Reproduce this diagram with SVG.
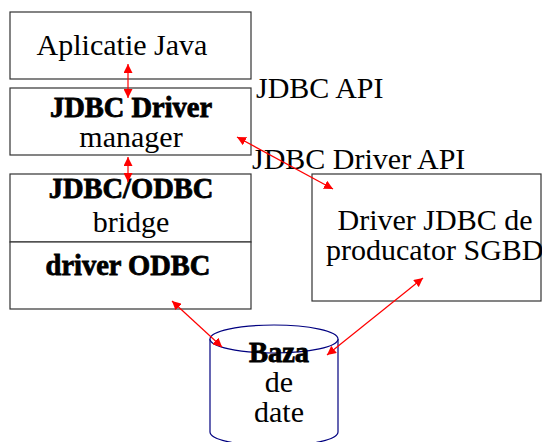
<svg xmlns="http://www.w3.org/2000/svg" width="542" height="442" viewBox="0 0 542 442">
  <defs>
    <marker id="ah" viewBox="0 0 10 10" refX="10" refY="5" markerWidth="9" markerHeight="9" markerUnits="userSpaceOnUse" orient="auto-start-reverse">
      <path d="M0,0 L10,5 L0,10 z" fill="#ff0000"/>
    </marker>
  </defs>
  <style>
    .box { fill: #ffffff; stroke: #333333; stroke-width: 1.2; }
    .db { fill: #ffffff; stroke: #000080; stroke-width: 1.2; }
    .t { font-family: "Liberation Serif", "Times New Roman", serif; font-size: 30px; fill: #000000; }
    .b { font-size: 28.5px; font-weight: bold; stroke: #000000; stroke-width: 0.8; }
    .mid { text-anchor: middle; }
    .link { stroke: #ff0000; stroke-width: 1.2; fill: none; marker-start: url(#ah); marker-end: url(#ah); }
  </style>

  <rect width="542" height="442" fill="#ffffff"/>

  <g id="aplicatie-java">
    <rect class="box" x="10" y="12" width="241" height="67"/>
    <text class="t mid" x="122" y="55">Aplicatie Java</text>
  </g>

  <g id="jdbc-driver-manager">
    <rect class="box" x="10" y="88" width="241" height="67"/>
    <text class="t b mid" x="131" y="117">JDBC Driver</text>
    <text class="t mid" x="131" y="147">manager</text>
  </g>

  <g id="jdbc-odbc-bridge">
    <rect class="box" x="10" y="174" width="241" height="68"/>
    <text class="t b mid" x="131" y="198">JDBC/ODBC</text>
    <text class="t mid" x="131" y="232">bridge</text>
  </g>

  <g id="driver-odbc">
    <rect class="box" x="10" y="242" width="241" height="67"/>
    <text class="t b mid" x="128" y="275">driver ODBC</text>
  </g>

  <g id="driver-jdbc-sgbd">
    <rect class="box" x="312" y="174" width="229" height="127"/>
    <text class="t mid" x="435" y="230">Driver JDBC de</text>
    <text class="t" x="326" y="260">producator SGBD</text>
  </g>

  <g id="baza-de-date">
    <path class="db" d="M210,339 L210,432 A64,14 0 0 0 338,432 L338,339"/>
    <ellipse class="db" cx="274" cy="339" rx="64" ry="14" fill="none"/>
    <text class="t b mid" x="279" y="362">Baza</text>
    <text class="t mid" x="279" y="392">de</text>
    <text class="t mid" x="279" y="422">date</text>
  </g>

  <g id="api-labels">
    <text class="t" x="256" y="98">JDBC API</text>
    <text class="t" x="252" y="169">JDBC Driver API</text>
  </g>

  <g id="connectors">
    <line class="link" x1="128" y1="64" x2="128" y2="98"/>
    <line class="link" x1="128" y1="157" x2="128" y2="182"/>
    <line class="link" x1="237" y1="137" x2="333" y2="189"/>
    <line class="link" x1="172" y1="301" x2="222" y2="347"/>
    <line class="link" x1="327" y1="355" x2="423" y2="278"/>
  </g>
</svg>
